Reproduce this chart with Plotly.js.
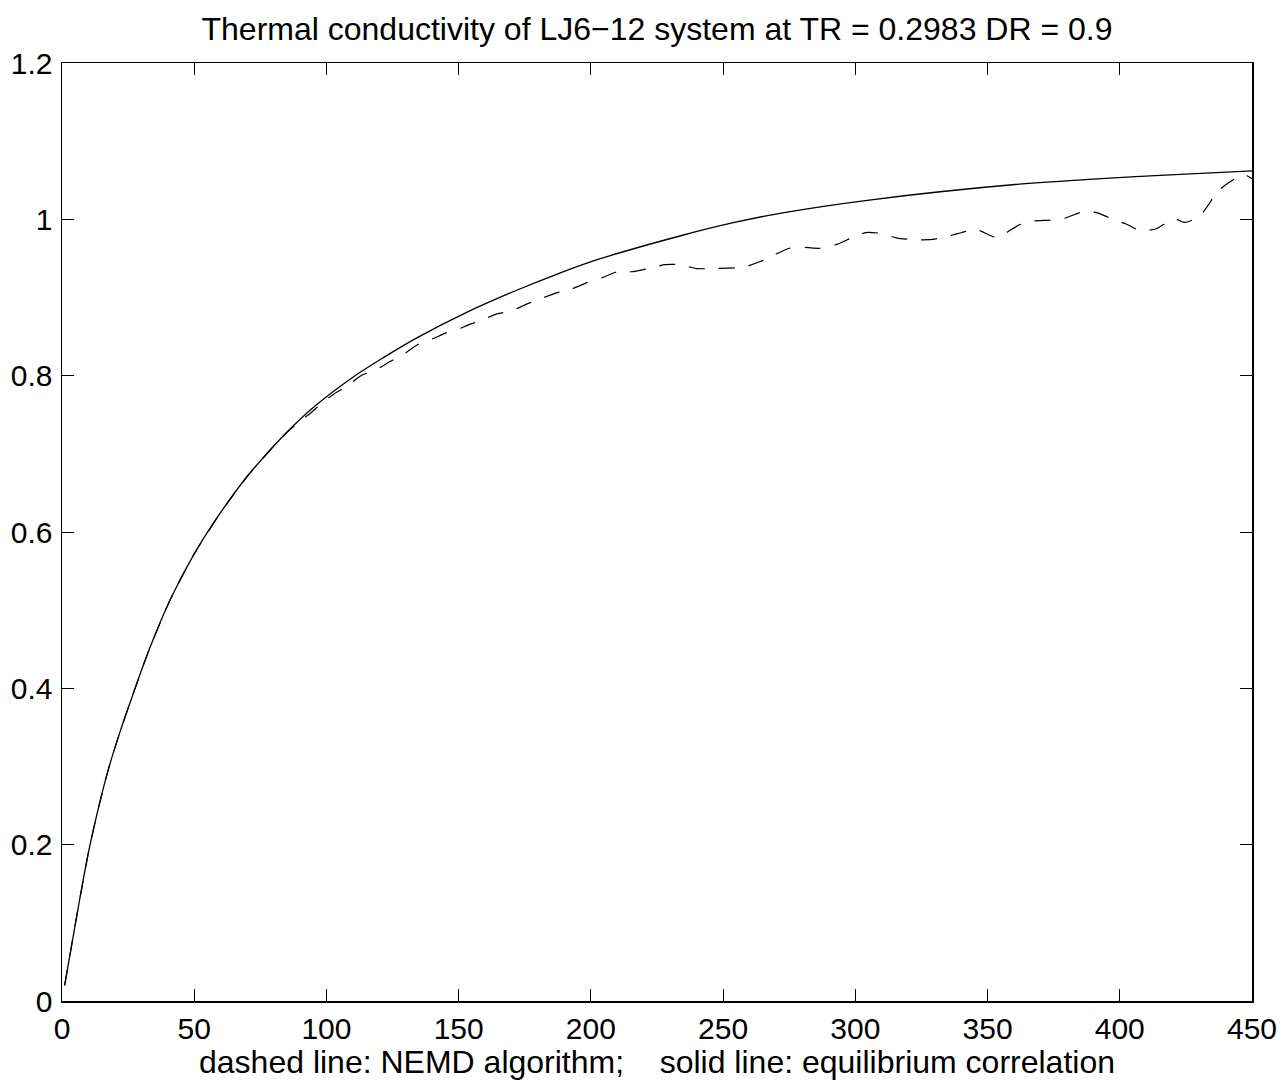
<!DOCTYPE html>
<html>
<head>
<meta charset="utf-8">
<script src="https://cdn.plot.ly/plotly-3.0.1.min.js"></script>
<style>html,body{margin:0;padding:0;background:#fff;}#chart{width:1284px;height:1084px;}</style>
</head>
<body>
<div id="chart"></div>
<script>
// Equilibrium correlation (solid line)
var tSolid = [1, 6, 10, 13, 17.5, 22, 26.6, 33, 41, 50, 60, 70, 84, 96, 110, 122, 134, 153, 171, 188, 203, 234, 253, 272, 306, 362, 393, 419, 450];
var kSolid = [0.020, 0.117, 0.19, 0.236, 0.296, 0.345, 0.390, 0.450, 0.514, 0.572, 0.625, 0.671, 0.724, 0.762, 0.798, 0.824, 0.848, 0.881, 0.908, 0.931, 0.949, 0.979, 0.995, 1.008, 1.025, 1.045, 1.052, 1.057, 1.062];

// NEMD algorithm (dashed line)
var tDashed = [1, 6, 10, 13, 17.5, 22, 26.6, 33, 41, 50, 60, 70, 84, 90, 94, 98, 103, 108, 113, 119, 124, 129, 134.4, 140, 145.5, 151, 153, 158.7, 164.4, 170, 175.7, 181.4, 187, 192.8, 198.5, 204, 210, 216, 221.6, 228, 233.7, 240, 245.8, 258, 264, 269.7, 275, 281, 286.7, 293, 298.4, 304, 310, 315.7, 322, 328, 333.6, 339, 345.7, 353, 356.7, 362, 367.6, 373.7, 379.3, 385.3, 391, 397, 402.4, 408, 413.8, 419, 421.5, 424.4, 430, 433.4, 437, 441.7, 445, 447.4, 450];
var kDashed = [0.020, 0.117, 0.19, 0.236, 0.296, 0.345, 0.390, 0.450, 0.514, 0.572, 0.625, 0.671, 0.724, 0.742, 0.752, 0.764, 0.777, 0.787, 0.800, 0.808, 0.818, 0.827, 0.8395, 0.847, 0.855, 0.861, 0.864, 0.871, 0.879, 0.883, 0.8915, 0.899, 0.906, 0.911, 0.919, 0.925, 0.933, 0.933, 0.937, 0.942, 0.942, 0.937, 0.937, 0.939, 0.946, 0.955, 0.963, 0.964, 0.963, 0.968, 0.976, 0.983, 0.982, 0.976, 0.974, 0.974, 0.977, 0.982, 0.987, 0.977, 0.982, 0.993, 0.998, 0.999, 1.0015, 1.009, 1.009, 1.0006, 0.994, 0.985, 0.988, 0.9985, 1.0, 0.996, 1.003, 1.018, 1.036, 1.048, 1.055, 1.057, 1.052];

var xTicks = [0, 50, 100, 150, 200, 250, 300, 350, 400, 450];
var yTicks = [0, 0.2, 0.4, 0.6, 0.8, 1, 1.2];
var yTickText = ['0', '0.2', '0.4', '0.6', '0.8', '1', '1.2'];

var titleText = 'Thermal conductivity of LJ6\u221212 system at TR = 0.2983 DR = 0.9';
var xTitle = 'dashed line: NEMD algorithm;\u00a0\u00a0\u00a0\u00a0solid line: equilibrium correlation';

var font = 'Liberation Sans, Arial, Helvetica, sans-serif';

var traces = [
  {x: tDashed, y: kDashed, type: 'scatter', mode: 'lines', name: 'NEMD',
   line: {color: '#000', width: 1.2, dash: '16px,14px', shape: 'spline', smoothing: 0.5}},
  {x: tSolid, y: kSolid, type: 'scatter', mode: 'lines', name: 'equilibrium',
   line: {color: '#000', width: 1.3, shape: 'spline', smoothing: 1}}
];

var axisCommon = {
  showline: true, linecolor: '#000', linewidth: 1.5, mirror: 'ticks',
  ticks: 'inside', ticklen: 12, tickwidth: 1, tickcolor: '#000',
  showgrid: false, zeroline: false, automargin: false,
  tickfont: {family: font, size: 30, color: '#000'}
};

var layout = {
  width: 1284, height: 1084,
  margin: {l: 62, r: 32, t: 63, b: 83, pad: 0},
  paper_bgcolor: '#fff', plot_bgcolor: '#fff',
  showlegend: false,
  title: {text: titleText, font: {family: font, size: 32, color: '#000'},
          x: 0.5, xref: 'paper', xanchor: 'center', y: 1 - 29/1084, yref: 'container', yanchor: 'middle'},
  xaxis: Object.assign({}, axisCommon, {
    range: [0, 450], tickmode: 'array', tickvals: xTicks,
    ticklabelstandoff: 0,
    title: {text: xTitle, font: {family: font, size: 32, color: '#000'}, standoff: 4}
  }),
  yaxis: Object.assign({}, axisCommon, {
    range: [0, 1.2], tickmode: 'array', tickvals: yTicks, ticktext: yTickText,
    ticklabelstandoff: 2
  })
};

Plotly.newPlot('chart', traces, layout, {staticPlot: true});
</script>
</body>
</html>
